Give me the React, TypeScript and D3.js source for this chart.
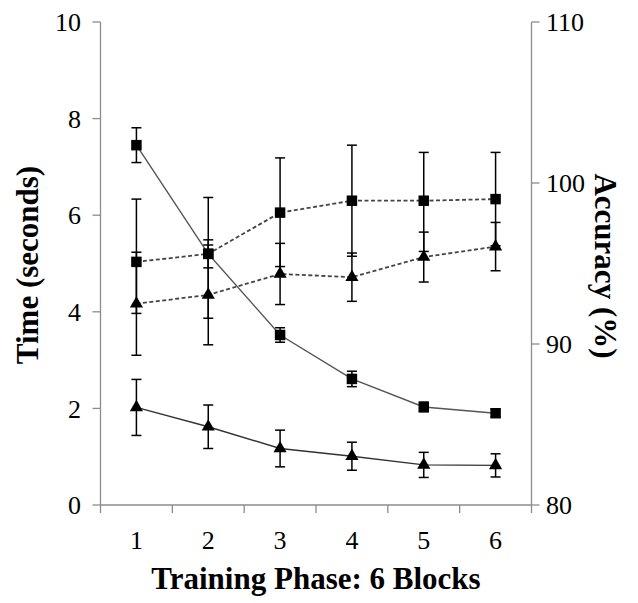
import React from "react";
import * as d3 from "d3";

const blocks = ["1", "2", "3", "4", "5", "6"];
const timeTicks = [0, 2, 4, 6, 8, 10];
const accTicks = [80, 90, 100, 110];

// Time (seconds), left axis
const timeSquare = [7.45, 5.2, 3.52, 2.61, 2.03, 1.9];
const timeSquareErr = [0.36, 0.29, 0.15, 0.16, 0.1, 0.08];
const timeTriangle = [2.02, 1.62, 1.17, 1.01, 0.83, 0.82];
const timeTriangleErr = [0.58, 0.45, 0.38, 0.29, 0.26, 0.24];

// Accuracy (%), right axis
const accSquare = [95.1, 95.6, 98.16, 98.9, 98.9, 99.0];
const accSquareErrUp = [3.9, 3.5, 3.4, 3.45, 3.0, 2.9];
const accSquareErrDown = [3.2, 4.0, 3.35, 3.45, 3.15, 2.9];
const accTriangle = [92.5, 93.05, 94.35, 94.15, 95.4, 96.05];
const accTriangleErr = [3.2, 3.1, 1.9, 1.5, 1.55, 1.5];

const W = 638;
const H = 603;
const L = 100.5;
const R = 531.5;
const T = 22;
const B = 505;

const font = "'Liberation Serif', 'Times New Roman', serif";

export default function App() {
  const x = d3.scaleBand<string>().domain(blocks).range([L, R]).padding(0);
  const cx = (i: number) => (x(blocks[i]) as number) + x.bandwidth() / 2;
  const yT = d3.scaleLinear().domain([0, 10]).range([B, T]);
  const yA = d3.scaleLinear().domain([80, 110]).range([B, T]);

  const line = (vals: number[], y: (v: number) => number) =>
    d3
      .line<number>()
      .x((_, i) => cx(i))
      .y((v) => y(v))(vals) as string;

  const sq = d3.symbol().type(d3.symbolSquare).size(110)() as string;
  const tri = d3.symbol().type(d3.symbolTriangle).size(75)() as string;

  const errBars = (
    vals: number[],
    up: number[],
    down: number[],
    y: (v: number) => number,
    key: string
  ) =>
    vals.map((v, i) => {
      const xx = cx(i);
      const y1 = y(v + up[i]);
      const y2 = y(v - down[i]);
      return (
        <g key={key + i} stroke="#000" strokeWidth={1.5}>
          <line x1={xx} x2={xx} y1={y1} y2={y2} />
          <line x1={xx - 5} x2={xx + 5} y1={y1} y2={y1} />
          <line x1={xx - 5} x2={xx + 5} y1={y2} y2={y2} />
        </g>
      );
    });

  const markers = (vals: number[], y: (v: number) => number, path: string, key: string) =>
    vals.map((v, i) => (
      <path key={key + i} d={path} transform={`translate(${cx(i)},${y(v)})`} fill="#000" />
    ));

  const boundaries = [...blocks.map((b) => x(b) as number), R];

  return (
    <svg
      width={W}
      height={H}
      style={{ position: "absolute", left: 0, top: 0, background: "#fff" }}
      fontFamily={font}
    >
      {/* axes */}
      <g stroke="#8c8c8c" strokeWidth={1.3} fill="none">
        <line x1={L} x2={L} y1={T} y2={B} />
        <line x1={R} x2={R} y1={T} y2={B} />
        <line x1={L} x2={R} y1={B} y2={B} />
        {timeTicks.map((t) => (
          <line key={"lt" + t} x1={L - 8} x2={L} y1={yT(t)} y2={yT(t)} />
        ))}
        {accTicks.map((t) => (
          <line key={"rt" + t} x1={R} x2={R + 8} y1={yA(t)} y2={yA(t)} />
        ))}
        {boundaries.map((b, i) => (
          <line key={"bt" + i} x1={b} x2={b} y1={B} y2={B + 8} />
        ))}
      </g>

      {/* tick labels */}
      <g fontSize={26} fill="#000">
        {timeTicks.map((t) => (
          <text key={"ll" + t} x={81} y={yT(t)} dy="0.35em" textAnchor="end">
            {t}
          </text>
        ))}
        {accTicks.map((t) => (
          <text key={"rl" + t} x={546} y={yA(t)} dy="0.35em" textAnchor="start">
            {t}
          </text>
        ))}
        {blocks.map((b, i) => (
          <text key={"bl" + b} x={cx(i)} y={549} textAnchor="middle">
            {b}
          </text>
        ))}
      </g>

      {/* axis titles */}
      <g fontSize={31} fontWeight="bold" fill="#000">
        <text transform={`translate(38,265) rotate(-90)`} textAnchor="middle">
          Time (seconds)
        </text>
        <text transform={`translate(595,266) rotate(90)`} textAnchor="middle">
          Accuracy (%)
        </text>
        <text x={316} y={589} textAnchor="middle">
          Training Phase: 6 Blocks
        </text>
      </g>

      {/* lines */}
      <g fill="none">
        <path d={line(timeSquare, yT)} stroke="#555" strokeWidth={1.4} />
        <path d={line(timeTriangle, yT)} stroke="#333" strokeWidth={1.4} />
        <path d={line(accSquare, yA)} stroke="#444" strokeWidth={1.8} strokeDasharray="4,2.5" />
        <path d={line(accTriangle, yA)} stroke="#444" strokeWidth={1.8} strokeDasharray="4,2.5" />
      </g>

      {/* error bars */}
      {errBars(accSquare, accSquareErrUp, accSquareErrDown, yA, "eas")}
      {errBars(accTriangle, accTriangleErr, accTriangleErr, yA, "eat")}
      {errBars(timeSquare, timeSquareErr, timeSquareErr, yT, "ets")}
      {errBars(timeTriangle, timeTriangleErr, timeTriangleErr, yT, "ett")}

      {/* markers */}
      {markers(accSquare, yA, sq, "mas")}
      {markers(accTriangle, yA, tri, "mat")}
      {markers(timeSquare, yT, sq, "mts")}
      {markers(timeTriangle, yT, tri, "mtt")}
    </svg>
  );
}
